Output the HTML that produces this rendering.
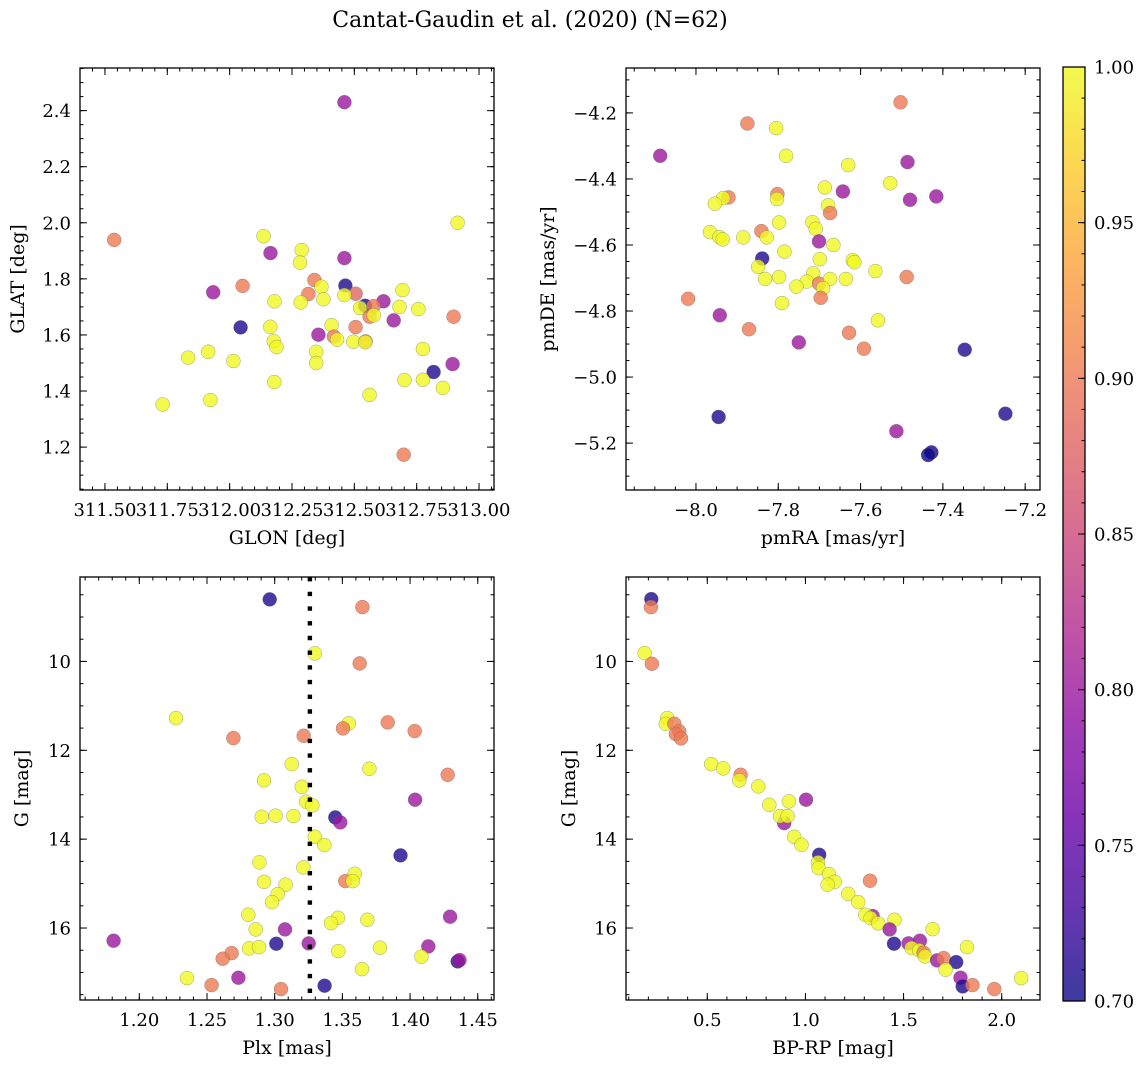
<!DOCTYPE html>
<html><head><meta charset="utf-8">
<style>
html,body{margin:0;padding:0;background:#fff;}
svg{display:block;font-family:"DejaVu Serif","Liberation Serif",serif;}
</style></head>
<body>
<svg id="fig" width="1148" height="1067" viewBox="0 0 1148 1067" xmlns="http://www.w3.org/2000/svg">
<text x="530" y="27" text-anchor="middle" font-size="22">Cantat-Gaudin et al. (2020) (N=62)</text>
</svg>
<script>
// ---- Top-left: GLON vs GLAT ----
const tlGlon=[312.460,312.914,311.537,312.136,312.164,312.289,312.282,312.460,311.934,312.052,312.340,312.368,312.316,312.464,312.505,312.460,312.180,312.285,312.376,312.617,312.693,312.543,312.523,312.577,312.561,312.578,312.681,312.757,312.658,312.898,312.044,312.163,312.409,312.505,312.356,312.418,312.431,312.496,312.545,312.544,312.177,312.188,312.347,312.347,311.914,311.834,312.015,312.775,312.894,312.818,312.179,312.701,312.775,312.855,312.561,311.923,311.731,312.698];
const tlGlat=[2.430,2.000,1.939,1.952,1.892,1.903,1.858,1.874,1.752,1.775,1.796,1.772,1.746,1.776,1.747,1.742,1.720,1.716,1.727,1.720,1.760,1.704,1.696,1.703,1.665,1.670,1.700,1.692,1.652,1.665,1.627,1.629,1.635,1.628,1.601,1.594,1.583,1.576,1.577,1.574,1.578,1.557,1.540,1.500,1.540,1.519,1.507,1.550,1.496,1.468,1.432,1.439,1.440,1.411,1.386,1.368,1.352,1.173];
const tlProb=[0.80,1.0,0.90,1.0,0.80,1.0,1.0,0.80,0.80,0.90,0.90,1.0,0.90,0.71,0.88,1.0,1.0,1.0,1.0,0.80,1.0,0.71,1.0,0.90,0.90,1.0,1.0,1.0,0.80,0.90,0.71,1.0,1.0,0.90,0.80,0.90,1.0,1.0,0.90,1.0,1.0,1.0,1.0,1.0,1.0,1.0,1.0,1.0,0.80,0.71,1.0,1.0,1.0,1.0,1.0,1.0,1.0,0.90];
// ---- Top-right: pmRA vs pmDE ----
const trPmra=[-7.503,-7.875,-7.805,-8.087,-7.781,-7.630,-7.486,-7.528,-7.687,-7.643,-7.480,-7.416,-7.921,-7.934,-7.954,-7.802,-7.803,-7.679,-7.674,-7.798,-7.717,-7.709,-7.966,-7.943,-7.935,-7.885,-7.841,-7.828,-7.701,-7.666,-7.785,-7.839,-7.699,-7.619,-7.615,-7.849,-7.564,-7.715,-7.832,-7.798,-7.731,-7.701,-7.674,-7.636,-7.488,-7.756,-7.691,-7.697,-8.019,-7.791,-7.942,-7.558,-7.871,-7.628,-7.750,-7.592,-7.347,-7.945,-7.248,-7.513,-7.428,-7.436];
const trPmde=[-4.168,-4.232,-4.246,-4.330,-4.330,-4.358,-4.349,-4.413,-4.426,-4.438,-4.463,-4.453,-4.456,-4.458,-4.475,-4.446,-4.461,-4.480,-4.503,-4.532,-4.531,-4.551,-4.561,-4.576,-4.583,-4.577,-4.558,-4.577,-4.589,-4.600,-4.620,-4.641,-4.643,-4.646,-4.652,-4.666,-4.679,-4.686,-4.703,-4.697,-4.711,-4.717,-4.703,-4.703,-4.697,-4.726,-4.731,-4.760,-4.763,-4.776,-4.813,-4.828,-4.855,-4.866,-4.895,-4.914,-4.917,-5.121,-5.111,-5.164,-5.228,-5.236];
const trProb=[0.90,0.90,1.0,0.80,1.0,1.0,0.80,1.0,1.0,0.80,0.80,0.80,0.90,1.0,1.0,0.90,1.0,1.0,0.90,1.0,1.0,1.0,1.0,1.0,1.0,1.0,0.90,1.0,0.80,1.0,1.0,0.71,1.0,1.0,1.0,1.0,1.0,1.0,1.0,1.0,1.0,0.90,1.0,1.0,0.90,1.0,1.0,0.90,0.90,1.0,0.80,1.0,0.90,0.90,0.80,0.90,0.71,0.71,0.71,0.80,0.70,0.70];
// ---- Bottom-left: Plx vs G ----
const blPlx=[1.2963,1.3648,1.3296,1.3628,1.2271,1.3547,1.3505,1.3835,1.4034,1.2695,1.3214,1.3126,1.3700,1.4278,1.2921,1.3200,1.3232,1.3278,1.4037,1.2904,1.3007,1.3138,1.3448,1.3485,1.3296,1.3367,1.3929,1.2887,1.3212,1.3591,1.3522,1.3576,1.2921,1.3081,1.3022,1.2980,1.2805,1.3468,1.3416,1.3685,1.4296,1.2860,1.3076,1.1810,1.3012,1.3251,1.2810,1.2884,1.2682,1.2616,1.3470,1.3778,1.4135,1.4084,1.4352,1.4365,1.3645,1.2352,1.2732,1.2534,1.3047,1.3369];
const blG=[8.605,8.777,9.820,10.045,11.275,11.395,11.508,11.373,11.568,11.725,11.673,12.311,12.416,12.551,12.678,12.821,13.158,13.241,13.113,13.496,13.473,13.481,13.511,13.623,13.946,14.133,14.366,14.524,14.636,14.779,14.944,14.944,14.959,15.026,15.236,15.416,15.701,15.769,15.889,15.814,15.746,16.031,16.031,16.286,16.354,16.346,16.459,16.429,16.564,16.691,16.519,16.444,16.414,16.646,16.751,16.721,16.924,17.127,17.119,17.284,17.374,17.299];
const blProb=[0.71,0.90,1.0,0.90,1.0,1.0,0.90,0.90,0.90,0.90,0.90,1.0,1.0,0.90,1.0,1.0,1.0,1.0,0.80,1.0,1.0,1.0,0.71,0.80,1.0,1.0,0.71,1.0,1.0,1.0,0.90,1.0,1.0,1.0,1.0,1.0,1.0,1.0,1.0,1.0,0.80,1.0,0.80,0.80,0.71,0.80,1.0,1.0,0.90,0.90,1.0,1.0,0.80,1.0,0.71,0.80,1.0,1.0,0.80,0.90,0.90,0.71];
const plxLine=[1.326];
// ---- Bottom-right: BP-RP vs G ----
const brColor=[0.215,0.213,0.181,0.218,0.296,0.289,0.332,0.357,0.340,0.366,0.520,0.581,0.670,0.663,0.760,0.816,0.916,1.003,0.892,0.870,0.909,0.943,0.980,1.070,1.064,1.067,1.120,1.329,1.149,1.113,1.218,1.269,1.342,1.305,1.332,1.371,1.454,1.429,1.648,1.451,1.525,1.583,1.541,1.580,1.602,1.609,1.823,1.671,1.704,1.768,1.714,1.790,1.801,1.851,1.962,2.099];
const brG=[8.597,8.777,9.812,10.053,11.275,11.403,11.403,11.575,11.635,11.733,12.311,12.408,12.551,12.678,12.813,13.226,13.151,13.113,13.638,13.481,13.481,13.946,14.126,14.351,14.524,14.651,14.786,14.936,14.959,15.026,15.229,15.416,15.731,15.701,15.776,15.896,15.814,16.031,16.024,16.354,16.346,16.286,16.451,16.504,16.556,16.639,16.429,16.729,16.676,16.766,16.939,17.119,17.314,17.284,17.374,17.127];
const brProb=[0.71,0.90,1.0,0.90,1.0,1.0,0.90,0.90,0.90,0.90,1.0,1.0,0.90,1.0,1.0,1.0,1.0,0.80,0.80,1.0,1.0,1.0,1.0,0.71,1.0,1.0,1.0,0.90,1.0,1.0,1.0,1.0,0.80,1.0,1.0,1.0,1.0,0.80,1.0,0.71,0.80,0.80,1.0,1.0,0.90,1.0,1.0,0.80,0.90,0.71,1.0,0.80,0.71,0.90,0.90,1.0];
// ---- Colorbar ----
const cbTicks=[0.70,0.75,0.80,0.85,0.90,0.95,1.00];
const cbLabels=["0.70","0.75","0.80","0.85","0.90","0.95","1.00"];

const NS="http://www.w3.org/2000/svg";
const svg=document.getElementById('fig');
function mk(tag,attrs,parent){const e=document.createElementNS(NS,tag);for(const k in attrs)e.setAttribute(k,attrs[k]);(parent||svg).appendChild(e);return e;}
const stops=[[13,8,135],[65,4,157],[106,0,168],[143,13,164],[177,42,144],[204,71,120],[225,100,98],[242,132,75],[252,166,54],[252,206,37],[240,249,33]];
function plasma(t){t=Math.max(0,Math.min(1,t));const f=t*10,i=Math.min(9,Math.floor(f)),r=f-i;const a=stops[i],b=stops[i+1];
 return 'rgb('+[0,1,2].map(k=>Math.round(a[k]+(b[k]-a[k])*r)).join(',')+')';}
function pcol(p){return plasma((p-0.70)/0.30);}

function panel(cfg){
 const g=mk('g',{});
 
 
 const sx=v=>cfg.x0+(v-cfg.xlim[0])/(cfg.xlim[1]-cfg.xlim[0])*(cfg.x1-cfg.x0);
 const sy=v=>cfg.y1-(v-cfg.ylim[0])/(cfg.ylim[1]-cfg.ylim[0])*(cfg.y1-cfg.y0);
 const clip='clip-'+cfg.name;
 const cp=mk('clipPath',{id:clip},g);mk('rect',{x:cfg.x0,y:cfg.y0,width:cfg.x1-cfg.x0,height:cfg.y1-cfg.y0},cp);
 const pts=mk('g',{'clip-path':'url(#'+clip+')'},g);
 
 
 for(let i=0;i<cfg.xs.length;i++){
  const c=mk('circle',{cx:sx(cfg.xs[i]).toFixed(1),cy:sy(cfg.ys[i]).toFixed(1),r:7,fill:pcol(cfg.ps[i]),'fill-opacity':0.8,stroke:'#666','stroke-opacity':0.6,'stroke-width':0.5},pts);
  
  
 }
 if(cfg.vline){for(const v of cfg.vline){const l=mk('line',{x1:sx(v),x2:sx(v),y1:cfg.y0,y2:cfg.y1,stroke:'#000','stroke-width':4.4,'stroke-dasharray':'4.4 10.3'},g);
  
  }}
 const fr=mk('rect',{x:cfg.x0,y:cfg.y0,width:cfg.x1-cfg.x0,height:cfg.y1-cfg.y0,fill:'none',stroke:'#000','stroke-width':1.3},g);
 
 
 const tk=mk('g',{stroke:'#000','stroke-width':1},g);
 const eps=1e-9;
 const xa=Math.min(cfg.xlim[0],cfg.xlim[1]),xb=Math.max(cfg.xlim[0],cfg.xlim[1]);
 for(let v=Math.ceil(xa/cfg.xminor-eps)*cfg.xminor;v<=xb+eps;v+=cfg.xminor){const X=sx(v);
  mk('line',{x1:X,x2:X,y1:cfg.y1,y2:cfg.y1-3.5},tk);mk('line',{x1:X,x2:X,y1:cfg.y0,y2:cfg.y0+3.5},tk);}
 cfg.xticks.forEach((v,i)=>{const X=sx(v);
  mk('line',{x1:X,x2:X,y1:cfg.y1,y2:cfg.y1-7},tk);mk('line',{x1:X,x2:X,y1:cfg.y0,y2:cfg.y0+7},tk);
  const t=mk('text',{x:X,y:cfg.y1+26,'text-anchor':'middle','font-size':18},g);t.textContent=cfg.xlabels[i];
  
  });
 const ya=Math.min(cfg.ylim[0],cfg.ylim[1]),yb=Math.max(cfg.ylim[0],cfg.ylim[1]);
 for(let v=Math.ceil(ya/cfg.yminor-eps)*cfg.yminor;v<=yb+eps;v+=cfg.yminor){const Y=sy(v);
  mk('line',{x1:cfg.x0,x2:cfg.x0+3.5,y1:Y,y2:Y},tk);mk('line',{x1:cfg.x1,x2:cfg.x1-3.5,y1:Y,y2:Y},tk);}
 cfg.yticks.forEach((v,i)=>{const Y=sy(v);
  mk('line',{x1:cfg.x0,x2:cfg.x0+7,y1:Y,y2:Y},tk);mk('line',{x1:cfg.x1,x2:cfg.x1-7,y1:Y,y2:Y},tk);
  const t=mk('text',{x:cfg.x0-9,y:Y+6.5,'text-anchor':'end','font-size':18},g);t.textContent=cfg.ylabels[i];
  
  });
 const xt=mk('text',{x:(cfg.x0+cfg.x1)/2,y:cfg.y1+54,'text-anchor':'middle','font-size':19},g);xt.textContent=cfg.xtitle;
 
 
 const cx=cfg.ytx,cy=(cfg.y0+cfg.y1)/2;
 const yt=mk('text',{x:cx,y:cy,'text-anchor':'middle','font-size':19,transform:'rotate(-90 '+cx+' '+cy+')'},g);yt.textContent=cfg.ytitle;
 
 
}
const negs=a=>a.map(v=>'\u2212'+Math.abs(v).toFixed(1));
panel({name:'glon-glat-panel',x0:80,x1:494,y0:68,y1:490,xlim:[311.40,313.060],ylim:[1.047,2.552],xs:tlGlon,ys:tlGlat,ps:tlProb,
 xticks:[311.5,311.75,312,312.25,312.5,312.75,313],xlabels:['311.50','311.75','312.00','312.25','312.50','312.75','313.00'],xminor:0.05,
 yticks:[1.2,1.4,1.6,1.8,2.0,2.2,2.4],ylabels:['1.2','1.4','1.6','1.8','2.0','2.2','2.4'],yminor:0.05,xtitle:'GLON [deg]',ytitle:'GLAT [deg]',ytx:24});
panel({name:'pm-panel',x0:626,x1:1040,y0:68,y1:490,xlim:[-8.170,-7.164],ylim:[-5.342,-4.064],xs:trPmra,ys:trPmde,ps:trProb,
 xticks:[-8.0,-7.8,-7.6,-7.4,-7.2],xlabels:negs([-8.0,-7.8,-7.6,-7.4,-7.2]),xminor:0.05,
 yticks:[-5.2,-5.0,-4.8,-4.6,-4.4,-4.2],ylabels:negs([-5.2,-5.0,-4.8,-4.6,-4.4,-4.2]),yminor:0.05,xtitle:'pmRA [mas/yr]',ytitle:'pmDE [mas/yr]',ytx:554});
panel({name:'plx-g-panel',x0:80,x1:494,y0:577,y1:1000,xlim:[1.1562,1.4620],ylim:[17.62,8.10],xs:blPlx,ys:blG,ps:blProb,vline:plxLine,
 xticks:[1.20,1.25,1.30,1.35,1.40,1.45],xlabels:['1.20','1.25','1.30','1.35','1.40','1.45'],xminor:0.01,
 yticks:[10,12,14,16],ylabels:['10','12','14','16'],yminor:0.5,xtitle:'Plx [mas]',ytitle:'G [mag]',ytx:28});
panel({name:'cmd-panel',x0:626,x1:1040,y0:577,y1:1000,xlim:[0.086,2.195],ylim:[17.62,8.10],xs:brColor,ys:brG,ps:brProb,
 xticks:[0.5,1.0,1.5,2.0],xlabels:['0.5','1.0','1.5','2.0'],xminor:0.1,
 yticks:[10,12,14,16],ylabels:['10','12','14','16'],yminor:0.5,xtitle:'BP-RP [mag]',ytitle:'G [mag]',ytx:575});

// colorbar
const cb=mk('g',{});


const cbx0=1063,cbx1=1085,cby0=67,cby1=1001;
const cs=v=>cby1-(v-0.70)/0.30*(cby1-cby0);
const grad=mk('linearGradient',{id:'cbgrad',x1:0,y1:1,x2:0,y2:0},cb);
for(let i=0;i<=20;i++){mk('stop',{offset:i/20,'stop-color':plasma(i/20),'stop-opacity':0.8},grad);}
mk('rect',{x:cbx0,y:cby0,width:cbx1-cbx0,height:cby1-cby0,fill:'url(#cbgrad)',stroke:'#000','stroke-width':1.3},cb);
for(let v=0.70;v<=1.0001;v+=0.01){mk('line',{x1:cbx1,x2:cbx1-3.5,y1:cs(v),y2:cs(v),stroke:'#000'},cb);}
cbTicks.forEach((v,i)=>{mk('line',{x1:cbx1,x2:cbx1-7,y1:cs(v),y2:cs(v),stroke:'#000'},cb);
 const t=mk('text',{x:cbx1+9,y:cs(v)+6.5,'font-size':18},cb);t.textContent=cbLabels[i];
 
 });
</script>
</body></html>
